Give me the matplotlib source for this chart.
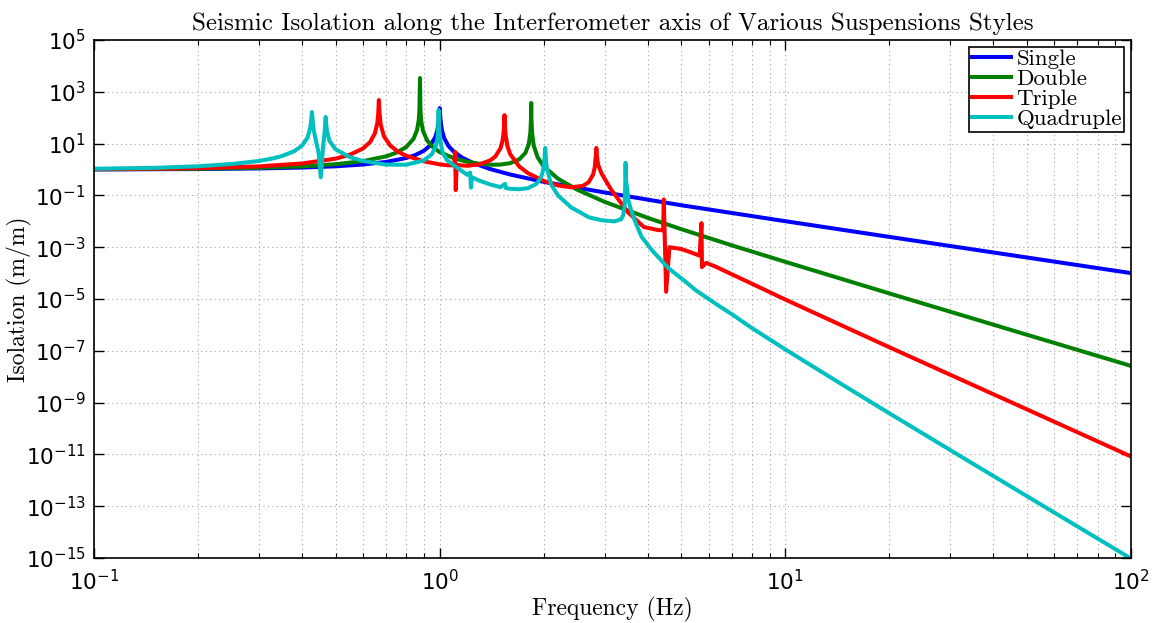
import matplotlib
matplotlib.use("Agg")
import matplotlib.pyplot as plt
from matplotlib.ticker import FixedLocator, LogLocator, NullFormatter

plt.rcParams['mathtext.fontset'] = 'custom'
plt.rcParams['mathtext.rm'] = 'Liberation Sans'
plt.rcParams['mathtext.it'] = 'Liberation Sans:italic'
plt.rcParams['mathtext.default'] = 'regular'

# values (frequency in Hz, isolation in m/m)
single_f = [0.1, 0.2, 0.3, 0.4, 0.5, 0.6, 0.7, 0.8, 0.85, 0.9, 0.94, 0.97, 0.985, 0.995, 1.0,
            1.005, 1.015, 1.03, 1.06, 1.1, 1.16, 1.25, 1.4, 1.6, 2, 3, 5, 10, 20, 50, 100]
single_v = [1.01, 1.04, 1.1, 1.19, 1.33, 1.56, 1.96, 2.78, 3.6, 5.3, 8.6, 17, 33, 90, 235,
            90, 33, 16.5, 8.1, 4.8, 2.9, 1.78, 1.04, 0.64, 0.333, 0.13, 0.0417, 0.0101, 0.0025, 0.0004, 0.0001]

double_f = [0.1, 0.2, 0.3, 0.4, 0.5, 0.6, 0.7, 0.75, 0.8, 0.84, 0.86, 0.87, 0.874, 0.877, 0.88,
            0.885, 0.895, 0.92, 0.95, 1.0, 1.1, 1.2, 1.3, 1.4, 1.5, 1.6, 1.7, 1.77, 1.81, 1.83,
            1.837, 1.84, 1.843, 1.85, 1.87, 1.92, 2.0, 2.2, 2.5, 3, 4, 5, 7, 10, 20, 50, 100]
double_v = [1.016, 1.068, 1.163, 1.325, 1.6, 2.1, 3.22, 4.47, 7.35, 15.3, 33, 82, 200, 3400, 185,
            70, 31, 13.2, 7.85, 4.7, 2.71, 1.99, 1.67, 1.53, 1.55, 1.76, 2.48, 4.35, 9.4, 27,
            85, 370, 90, 27, 8.6, 2.98, 1.31, 0.44, 0.166, 0.0564, 0.01356, 0.00497, 0.00118,
            2.72e-4, 1.64e-5, 4.17e-7, 2.61e-8]

triple_f = [0.1, 0.2, 0.3, 0.4, 0.5, 0.55, 0.6, 0.63, 0.65, 0.66, 0.664, 0.667, 0.67, 0.675,
            0.69, 0.72, 0.76, 0.8, 0.9, 1.0, 1.05, 1.1, 1.108, 1.113, 1.12, 1.2, 1.3, 1.4, 1.45,
            1.5, 1.52, 1.53, 1.537, 1.54, 1.543, 1.55, 1.57, 1.6, 1.7, 1.8, 2.0, 2.2, 2.4, 2.6,
            2.7, 2.78, 2.81, 2.83, 2.84, 2.85, 2.87, 2.94, 3.14, 3.52, 3.9, 4.28, 4.43, 4.45,
            4.52, 4.62, 5.0, 5.3, 5.65, 5.72, 5.74, 5.9, 6.3, 7, 8, 10, 20, 50, 100]
triple_v = [1.029, 1.123, 1.318, 1.709, 2.63, 3.72, 6.47, 11.7, 25.5, 62, 140, 480, 150, 54.5,
            19, 8.28, 4.77, 3.39, 2.06, 1.58, 1.46, 1.45, 4.8, 0.16, 1.5, 1.386, 1.57, 2.24, 3.2,
            6.67, 12.9, 25.5, 60, 126, 60, 24.8, 8.06, 3.88, 1.297, 0.727, 0.3616, 0.243, 0.205,
            0.235, 0.326, 0.647, 1.22, 3.52, 6.8, 3.39, 1.6, 0.7, 0.16, 0.021, 0.006, 0.0046,
            0.0045, 0.07, 1.9e-5, 1.0e-3, 8.5e-4, 6.5e-4, 4.7e-4, 0.0085, 1.7e-4, 2.5e-4,
            1.75e-4, 9e-5, 3.9e-5, 9.52e-6, 1.367e-7, 5.47e-10, 8.3e-12]

quad_f = [0.1, 0.15, 0.2, 0.25, 0.3, 0.33, 0.35, 0.38, 0.4, 0.415, 0.422, 0.425, 0.427, 0.429,
          0.432, 0.44, 0.446, 0.453, 0.46, 0.464, 0.466, 0.468, 0.47, 0.472, 0.48, 0.5, 0.55,
          0.6, 0.7, 0.8, 0.9, 0.95, 0.975, 0.985, 0.99, 0.993, 0.996, 1.003, 1.01, 1.02, 1.05,
          1.1, 1.2, 1.225, 1.232, 1.24, 1.3, 1.4, 1.5, 1.545, 1.555, 1.6, 1.7, 1.8, 1.9, 1.95,
          1.98, 2.0, 2.012, 2.02, 2.028, 2.04, 2.1, 2.2, 2.4, 2.7, 2.94, 3.2, 3.35, 3.4, 3.43,
          3.443, 3.45, 3.46, 3.52, 3.59, 3.7, 3.84, 4.1, 4.59, 5.11, 5.5, 6.0, 6.5, 7, 8, 10,
          15, 20, 30, 50, 100]
quad_v = [1.069, 1.16, 1.332, 1.63, 2.131, 2.7, 3.31, 5.13, 8.39, 17.4, 39.6, 80, 166, 80,
          34, 10.4, 4.9, 0.5, 7.8, 22, 45, 107, 50, 30.9, 12.6, 6.03, 3.0,
          2.124, 1.544, 1.528, 2.235, 3.93, 8, 16, 40, 200, 40, 17.1, 8.39, 4.5, 2.3,
          1.446, 0.625, 0.75, 0.2, 0.5, 0.3756, 0.2647, 0.2083, 0.28, 0.19, 0.1804, 0.173, 0.1904, 0.272, 0.415,
          0.68, 1.303, 3.0, 6.8, 3.0, 1.2, 0.2663, 0.0988, 0.0346, 0.0143, 0.011, 0.0099, 0.012, 0.018, 0.045,
          0.3, 1.8, 0.4, 0.06, 0.023, 0.008, 0.0025, 8e-4, 1.55e-4, 5e-5, 2.2e-5, 1.0e-5, 4.9e-6, 2.6e-6,
          7.6e-7, 1.13e-7, 3.99e-9, 3.855e-10, 1.47e-11, 2.44e-13, 9.5e-16]

series = [("Single", single_f, single_v, (0, 0, 1)),
          ("Double", double_f, double_v, (0, 0.5, 0)),
          ("Triple", triple_f, triple_v, (1, 0, 0)),
          ("Quadruple", quad_f, quad_v, (0, 0.75, 0.75))]

x_ticks = [0.1, 1, 10, 100]
x_labels = [r'$10^{-1}$', r'$10^{0}$', r'$10^{1}$', r'$10^{2}$']
y_exps = [-15, -13, -11, -9, -7, -5, -3, -1, 1, 3, 5]

fig = plt.figure(figsize=(11.56, 6.23), dpi=100)
ax = fig.add_axes([94 / 1156, 65 / 623, 1037 / 1156, 518 / 623])

for name, f, v, c in series:
    ax.loglog(f, v, color=c, lw=2.9, label=name, solid_joinstyle='round')

ax.set_xlim(0.1, 100)
ax.set_ylim(1e-15, 1e5)

ax.xaxis.set_major_locator(FixedLocator(x_ticks))
ax.set_xticklabels(x_labels)
ax.xaxis.set_minor_locator(LogLocator(base=10, subs=[2, 3, 4, 5, 6, 7, 8, 9], numticks=20))
ax.xaxis.set_minor_formatter(NullFormatter())
ax.yaxis.set_major_locator(FixedLocator([10.0 ** e for e in y_exps]))
ax.set_yticklabels([r'$10^{%d}$' % e for e in y_exps])
ax.yaxis.set_minor_locator(FixedLocator([]))

ax.tick_params(which='both', direction='in', top=True, right=True, labelsize=15.5)
ax.tick_params(which='major', length=7, width=1)
ax.tick_params(which='minor', length=3.5, width=0.8)
ax.tick_params(axis='x', pad=8)
ax.tick_params(axis='y', pad=6)
for s in ax.spines.values():
    s.set_linewidth(1.2)

ax.grid(True, which='major', linestyle=(0, (1, 3)), color='0.65', lw=0.8)
ax.grid(True, which='minor', axis='x', linestyle=(0, (1, 3)), color='0.65', lw=0.8)

ax.set_title("Seismic Isolation along the Interferometer axis of Various Suspensions Styles",
             fontfamily='cmr10', fontsize=18, pad=7)
ax.set_xlabel("Frequency (Hz)", fontfamily='cmr10', fontsize=17, labelpad=2)
ax.set_ylabel("Isolation (m/m)", fontfamily='cmr10', fontsize=17)
ax.yaxis.set_label_coords(-0.06, 0.5)

leg = ax.legend(loc='upper right', prop={'family': 'cmr10', 'size': 16.5}, fancybox=False,
                edgecolor='black', framealpha=1, borderaxespad=0.3, labelspacing=0.0,
                handlelength=1.7, handletextpad=0.25, borderpad=0.1)
leg.get_frame().set_linewidth(1.2)

fig.savefig("out.png", dpi=100)
